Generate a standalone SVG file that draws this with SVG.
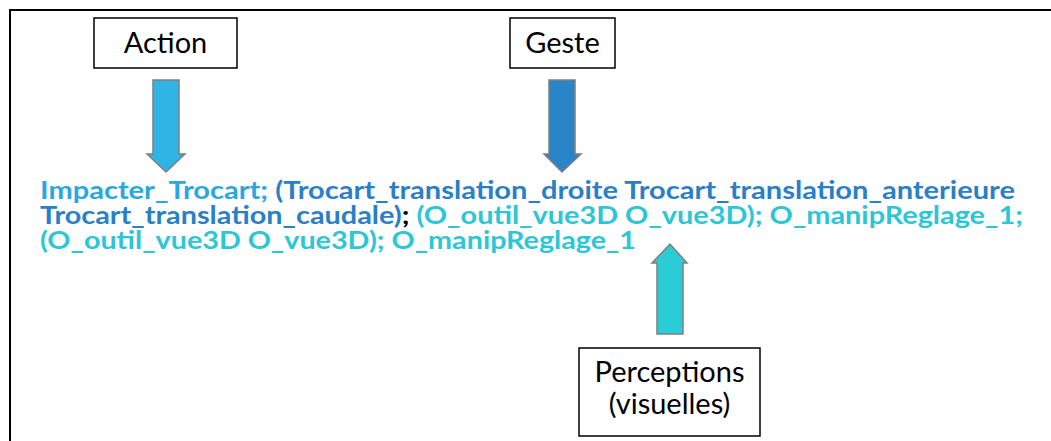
<svg xmlns="http://www.w3.org/2000/svg" width="1051" height="441" viewBox="0 0 1051 441">
<style>
.box{fill:#fff;stroke:#000;stroke-width:1.5}
.lbl{font-family:Lato,"Liberation Sans",sans-serif;font-size:29px;fill:#000;text-anchor:middle}
.seq{font-family:Lato,"Liberation Sans",sans-serif;font-size:24px;font-weight:bold}
.a{fill:#29a8e0}.g{fill:#2a80c6}.p{fill:#2cc6d6}.k{fill:#000}
.arr{stroke:#7f7f7f;stroke-width:1.5}
</style>
<rect width="1051" height="441" fill="#fff"/>
<path d="M10,441 V10 H1051" fill="none" stroke="#000" stroke-width="2"/>
<g id="action"><rect class="box" x="94" y="18" width="143" height="50"/><text class="lbl" x="165.5" y="53">Action</text></g>
<g id="geste"><rect class="box" x="510" y="18" width="105" height="50"/><text class="lbl" x="562.5" y="53">Geste</text></g>
<g id="perceptions"><rect class="box" x="579" y="348" width="181" height="88"/><text class="lbl" x="669.5" y="382">Perceptions</text><text class="lbl" x="669.5" y="414">(visuelles)</text></g>
<g id="sequence" class="seq">
<text x="40" y="199" textLength="975" lengthAdjust="spacingAndGlyphs"><tspan class="a">Impacter_Trocart; </tspan><tspan class="g">(Trocart_translation_droite Trocart_translation_anterieure</tspan></text>
<text x="40" y="224" textLength="983" lengthAdjust="spacingAndGlyphs"><tspan class="g">Trocart_translation_caudale)</tspan><tspan class="k">; </tspan><tspan class="p">(O_outil_vue3D O_vue3D); O_manipReglage_1;</tspan></text>
<text x="40" y="249" textLength="596" lengthAdjust="spacingAndGlyphs"><tspan class="p">(O_outil_vue3D O_vue3D); O_manipReglage_1</tspan></text>
</g>
<g id="connectors">
<polygon class="arr" fill="#2fb4e6" points="153,80 179,80 179,154 185,154 166,172 147,154 153,154"/>
<polygon class="arr" fill="#2a84c8" points="549,80 575,80 575,154 581,154 562,172 544,154 549,154"/>
<polygon class="arr" fill="#2accd6" points="657,334 683,334 683,263 687,263 670,244 652,263 657,263"/>
</g>
</svg>
